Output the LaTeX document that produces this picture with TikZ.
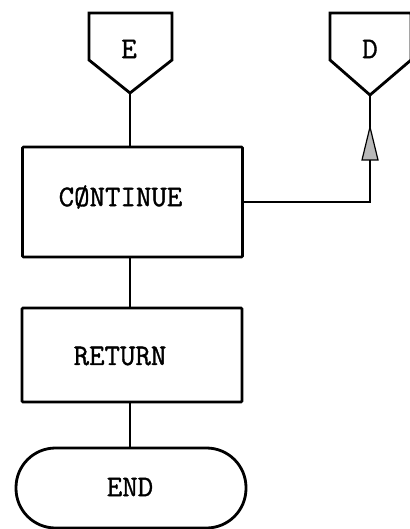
\documentclass[tikz,border=0pt]{standalone}
\usepackage{fontspec}
\setmonofont{Latin Modern Mono}[FakeBold=1.2]
\begin{document}
\begin{tikzpicture}[x=1pt,y=-1pt,
  line width=2.8pt,
  every node/.style={font=\ttfamily\fontsize{30}{32}\selectfont},
  procbox/.style={draw,rectangle,minimum width=220pt,rounded corners=1pt},
  termbox/.style={draw,rectangle,minimum width=230pt,minimum height=80pt,rounded corners=39.5pt},
  flowtip/.style={fill=gray!55,draw,line width=1.2pt,line join=miter},
  txt/.style={inner sep=0pt}]
\useasboundingbox (0,0) rectangle (409,529);

% off-page connectors
\draw[line join=miter] (89,13) -- (172,13) -- (172,60) -- (130,93) -- (89,60) -- cycle;
\coordinate (Etip) at (130,93);
\node[txt] (Elab) at (129,49) {E};

\draw[line join=miter] (330,13) -- (411,13) -- (411,60) -- (370,95) -- (330,60) -- cycle;
\coordinate (Dtip) at (370,95);
\node[txt] (Dlab) at (370,49) {D};

% process boxes
\node[procbox,minimum height=110pt] (cont) at (132.5,202) {};
\node[txt] (contlab) at (120.5,197) {CØNTINUE};

\node[procbox,minimum height=94pt] (ret) at (132,355) {};
\node[txt] (retlab) at (120,356) {RETURN};

% terminal
\node[termbox] (end) at (131,488) {};
\node[txt] (endlab) at (130,487) {END};

% connectors
\draw (Etip) -- (Etip |- cont.north);
\draw (Etip |- cont.south) -- (Etip |- ret.north);
\draw (Etip |- ret.south) -- (Etip |- end.north);
\draw (cont.east) -| (Dtip);
% flow-direction arrowhead on the return line
\filldraw[flowtip,shift={(Dtip)}] (0,32) -- (-8,65) -- (8,65) -- cycle;
\end{tikzpicture}
\end{document}
